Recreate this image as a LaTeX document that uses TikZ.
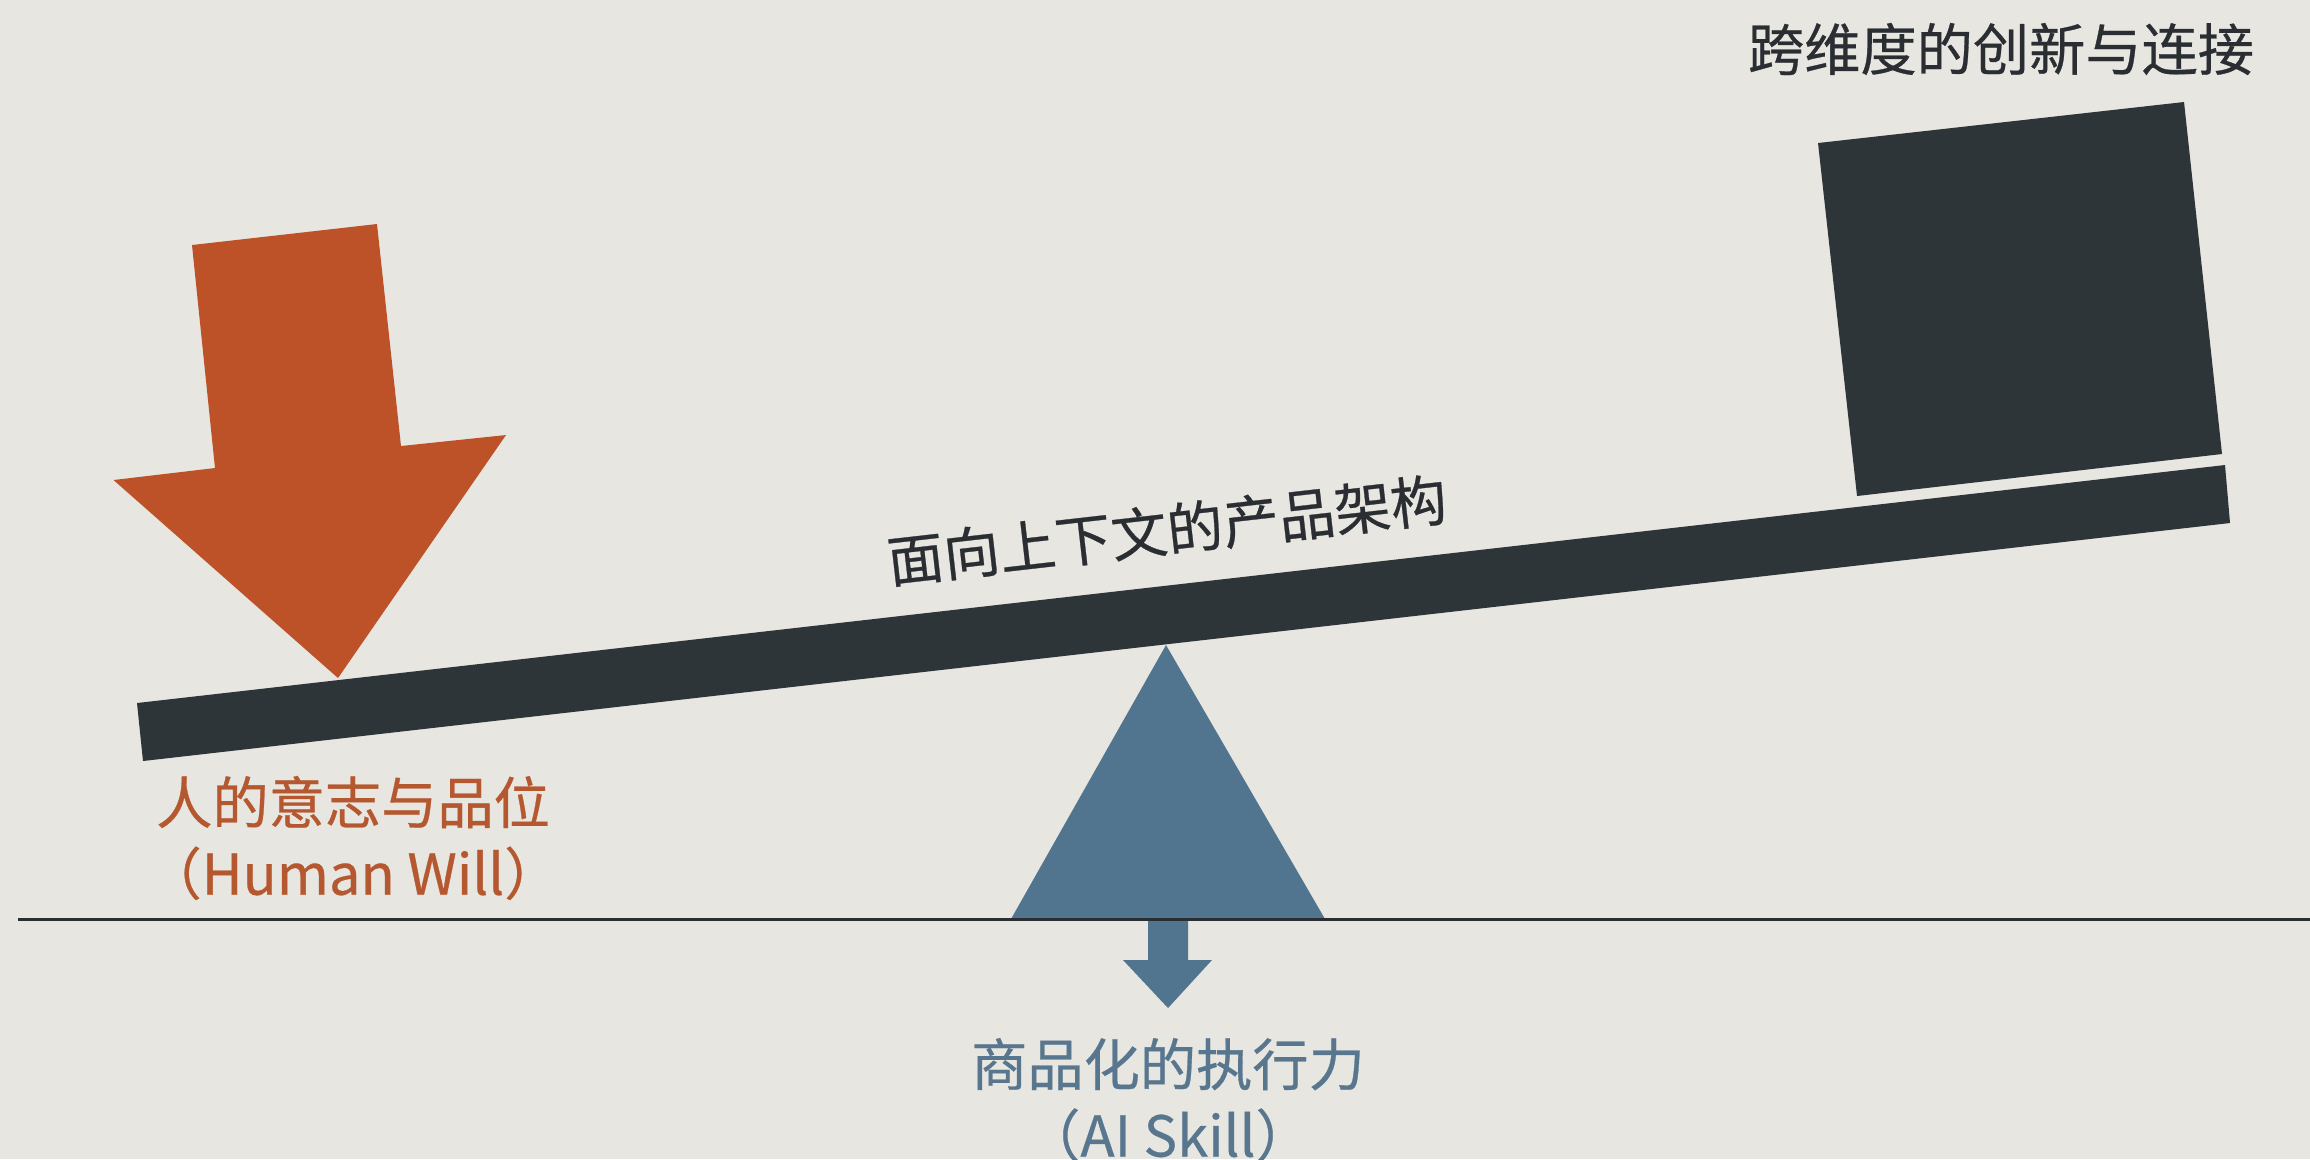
\documentclass[tikz,border=0pt]{standalone}
\usepackage{fontspec}
\setmainfont{Noto Sans CJK SC}[BoldFont=Noto Sans CJK SC, BoldFeatures={FakeBold=0.5}]
\usetikzlibrary{positioning}

\definecolor{paper}{HTML}{E7E6E1}
\definecolor{slate}{HTML}{2E3539}
\definecolor{rust}{HTML}{BD5229}
\definecolor{rusttext}{HTML}{B5582F}
\definecolor{steel}{HTML}{52758F}
\definecolor{steeltext}{HTML}{58768E}
\definecolor{inkdark}{HTML}{2A2E32}

\begin{document}
\begin{tikzpicture}[scale=0.1,
  label/.style={inner sep=0pt, font=\fontsize{16}{20.2}\selectfont\bfseries, align=center},
  ground/.style={draw=inkdark, line width=1.1pt}]
\useasboundingbox (0,0) rectangle (231,-115.9);
\fill [paper] (0,0) rectangle (231,-115.9);
% load on the right
\fill [slate] (181.8,-14.3) -- (218.4,-10.2) -- (222.2,-45.4) -- (185.7,-49.6) -- cycle;
\draw (200.1,-4.9) node [label, text=inkdark] (loadlbl) {跨维度的创新与连接};
% beam
\fill [slate] (13.7,-70.3) -- (222.5,-46.5) -- (223.0,-52.3) -- (14.3,-76.1) -- cycle;
\draw (116.7,-53.0) node [label, text=inkdark, rotate=6.5] (beamlbl) {面向上下文的产品架构};
% force from the left
\fill [rust] (19.2,-24.5) -- (37.7,-22.4) -- (40.1,-44.6) -- (50.6,-43.5) -- (33.8,-67.8) -- (11.35,-48.0) -- (21.5,-46.8) -- cycle;
\draw (35.3,-83.8) node [label, text=rusttext] (willlbl) {人的意志与品位\\（Human Will）};
% fulcrum
\fill [steel] (116.6,-64.5) -- (132.5,-91.9) -- (101.1,-91.9) -- cycle;
\fill [steel] (114.8,-92.0) -- (118.8,-92.0) -- (118.8,-96.0) -- (121.2,-96.0) -- (116.8,-100.8) -- (112.3,-96.0) -- (114.8,-96.0) -- cycle;
\draw [ground] (1.8,-91.95) -- (231,-91.95);
\draw (116.8,-110.0) node [label, text=steeltext] (skilllbl) {商品化的执行力\\（AI Skill）};
\end{tikzpicture}
\end{document}
